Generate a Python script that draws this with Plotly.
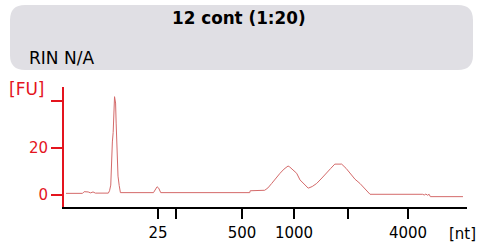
import plotly.graph_objects as go

# ---- data ----
title_text = "12 cont (1:20)"
rin_text = "RIN N/A"

# migration time [s] and fluorescence [FU]
time_s = [20.25, 22.3, 22.5, 23.0, 23.3, 23.6, 23.9, 25.5, 25.65, 25.8, 26.0, 26.1,
          26.27, 26.4, 26.47, 26.55, 26.7, 26.85, 27.0, 31.1, 31.3, 31.55, 31.75, 32.0,
          43.05, 43.1, 44.9, 45.3, 45.77, 46.3, 46.8, 47.3, 47.8, 48.0, 48.4, 48.87,
          49.28, 49.9, 50.3, 50.8, 51.35, 52.0, 52.6, 53.1, 53.6, 54.45, 55.0, 55.48,
          56.1, 56.72, 57.2, 57.56, 57.97, 64.5, 64.7, 64.9, 65.1, 65.3, 65.45, 69.5]
fu = [0.7, 0.7, 1.4, 1.3, 0.9, 1.3, 0.8, 0.8, 1.8, 4.2, 22.5, 26.5,
      41.7, 39.0, 30.5, 24.5, 8.0, 4.0, 1.0, 1.0, 2.2, 3.5, 2.9, 1.0,
      1.0, 1.8, 2.0, 3.0, 4.9, 7.2, 9.2, 11.0, 12.3, 11.9, 10.8, 9.2,
      6.4, 4.2, 2.9, 3.6, 4.9, 7.2, 9.2, 11.3, 13.1, 13.1, 11.3, 9.2,
      6.7, 4.9, 3.1, 2.1, 0.3, 0.3, 0.0, 0.4, -0.1, 0.3, -0.7, -0.7]

# ladder: size labels and migration times
ladder_time = [31.66, 33.9, 42.08, 48.54, 55.24, 62.68]
ladder_text = ["25", "", "500", "1000", "", "4000"]

y_tickvals = [0, 20, 40]
y_ticktext = ["0", "20", ""]

# ---- layout helpers ----
W, H = 495, 248
L, R, T, B = 64, 467, 87, 207
PW, PH = R - L, B - T
FONT = "DejaVu Sans, Verdana, sans-serif"
RED = "#e4141e"


def px(x):
    return (x - L) / PW


def py(y):
    return (B - y) / PH


def rounded_rect(x0, y0, x1, y1, r):
    pts = []
    pts.append(f"M {px(x0 + r)},{py(y0)}")
    pts.append(f"L {px(x1 - r)},{py(y0)}")
    pts.append(f"Q {px(x1)},{py(y0)} {px(x1)},{py(y0 + r)}")
    pts.append(f"L {px(x1)},{py(y1 - r)}")
    pts.append(f"Q {px(x1)},{py(y1)} {px(x1 - r)},{py(y1)}")
    pts.append(f"L {px(x0 + r)},{py(y1)}")
    pts.append(f"Q {px(x0)},{py(y1)} {px(x0)},{py(y1 - r)}")
    pts.append(f"L {px(x0)},{py(y0 + r)}")
    pts.append(f"Q {px(x0)},{py(y0)} {px(x0 + r)},{py(y0)}")
    pts.append("Z")
    return " ".join(pts)


fig = go.Figure()
fig.add_trace(go.Scatter(x=time_s, y=fu, mode="lines",
                         line=dict(color="#d46a6a", width=1), hoverinfo="skip"))

fig.update_layout(
    width=W, height=H,
    margin=dict(l=L, r=W - R, t=T, b=H - B, pad=0, autoexpand=False),
    paper_bgcolor="white", plot_bgcolor="white",
    showlegend=False,
    font=dict(family=FONT, size=15, color="black"),
    shapes=[dict(type="path", xref="paper", yref="paper",
                 path=rounded_rect(10, 5, 473, 70, 15),
                 fillcolor="#e0dfe4", line=dict(width=0), layer="below")],
    annotations=[
        dict(text=f"<b>{title_text}</b>", x=px(238.5), y=py(18), xref="paper", yref="paper",
             xanchor="center", yanchor="middle", showarrow=False,
             font=dict(size=16.8, color="black", family=FONT)),
        dict(text=rin_text, x=px(27), y=py(58), xref="paper", yref="paper",
             xanchor="left", yanchor="middle", showarrow=False,
             font=dict(size=17, color="black", family=FONT)),
        dict(text="[FU]", x=px(47), y=py(89), xref="paper", yref="paper",
             xanchor="right", yanchor="middle", showarrow=False,
             font=dict(size=17, color=RED, family=FONT)),
        dict(text="[nt]", x=px(478), y=py(233.5), xref="paper", yref="paper",
             xanchor="right", yanchor="middle", showarrow=False,
             font=dict(size=15, color="black", family=FONT)),
    ],
)

fig.update_xaxes(range=[20, 70], showgrid=False, zeroline=False, automargin=False,
                 showline=True, linecolor="black", linewidth=2,
                 ticks="outside", ticklen=10, tickwidth=2, tickcolor="black",
                 tickvals=ladder_time, ticktext=ladder_text,
                 ticklabelstandoff=1,
                 tickfont=dict(size=15, color="black", family=FONT))
fig.update_yaxes(range=[-5.09, 45.81], showgrid=False, zeroline=False, automargin=False,
                 showline=True, linecolor=RED, linewidth=2,
                 ticks="outside", ticklen=11, tickwidth=2, tickcolor=RED,
                 tickvals=y_tickvals, ticktext=y_ticktext,
                 tickfont=dict(size=15, color=RED, family=FONT))

fig.write_html("out.html", config={"displayModeBar": False},
               post_script="document.body.style.margin='0';document.body.style.overflow='hidden';")
